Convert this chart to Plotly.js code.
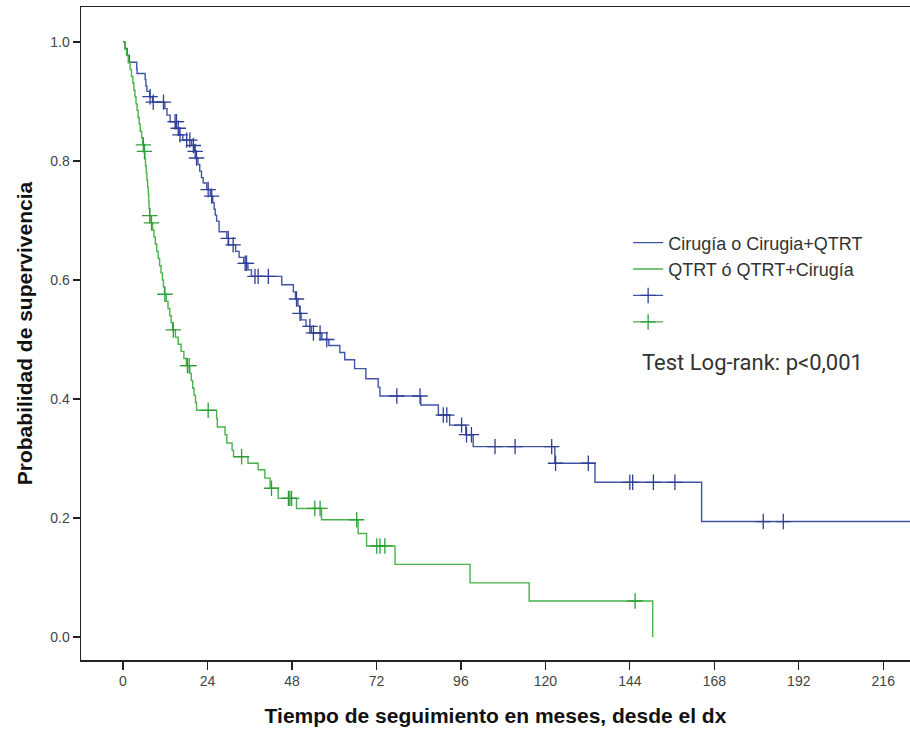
<!DOCTYPE html>
<html><head><meta charset="utf-8">
<script src="https://cdn.plot.ly/plotly-3.0.1.min.js"></script>
<style>html,body{margin:0;padding:0;background:#fff}#chart{width:910px;height:740px}</style>
</head><body><div id="chart"></div>
<script>
// Group names
const groupNames = ['Cirugía o Cirugia+QTRT', 'QTRT ó QTRT+Cirugía'];

// Group 1 (blue): Kaplan-Meier steps (months, survival)
const blueTime = [0,0.6,1.2,1.8,3.9,4.0,6.3,6.5,6.8,7.6,8.4,11.9,12.5,13.4,15.0,15.9,17.0,19.5,20.3,20.8,21.3,21.8,22.3,22.8,23.8,24.8,25.5,25.9,26.2,26.6,27.3,29.5,30.0,32.0,33.0,34.3,35.5,36.5,45.1,48.4,49.0,49.7,50.2,50.6,52.0,53.5,56.5,58.5,61.6,63.0,65.8,69.0,72.5,73.0,84.6,89.6,92.8,97.4,99.5,122.7,134.1,164.4,230];
const blueSurv = [1.0,0.989,0.978,0.966,0.955,0.947,0.937,0.926,0.917,0.908,0.899,0.888,0.877,0.866,0.855,0.844,0.835,0.826,0.816,0.805,0.794,0.783,0.772,0.763,0.752,0.741,0.730,0.719,0.709,0.699,0.681,0.670,0.659,0.648,0.638,0.628,0.617,0.606,0.592,0.580,0.568,0.556,0.544,0.533,0.522,0.511,0.500,0.490,0.478,0.466,0.451,0.434,0.420,0.405,0.390,0.373,0.356,0.340,0.320,0.292,0.260,0.194,0.194];
// Group 1 censored cases
const blueCensTime = [7.7,8.6,11.5,14.8,15.2,15.7,16.2,18.1,19.0,20.0,20.5,20.9,24.2,25.2,29.9,31.3,34.7,35.1,37.5,38.4,41.3,49.3,50.3,53.1,54.1,56.0,57.9,77.8,84.4,91.0,92.0,96.2,97.6,99.0,105.7,111.4,121.8,122.9,132.2,144.0,144.8,150.7,156.8,181.9,187.6];
const blueCensSurv = [0.908,0.899,0.899,0.866,0.866,0.855,0.844,0.835,0.835,0.826,0.816,0.805,0.752,0.741,0.670,0.659,0.628,0.628,0.606,0.606,0.606,0.568,0.544,0.522,0.511,0.511,0.500,0.405,0.405,0.373,0.373,0.356,0.340,0.340,0.320,0.320,0.320,0.292,0.292,0.260,0.260,0.260,0.260,0.194,0.194];

// Group 2 (green): Kaplan-Meier steps
const greenTime = [0,0.5,1.0,1.5,2.0,2.4,2.8,3.1,3.4,3.7,4.0,4.3,4.6,4.9,5.3,5.6,6.0,6.2,6.4,6.6,6.8,7.0,7.2,7.3,7.4,7.6,8.0,8.4,8.8,9.2,9.6,10.0,10.4,10.8,11.2,11.5,11.8,12.3,12.8,13.3,13.7,14.1,14.9,15.7,16.5,17.3,18.0,19.0,19.4,19.8,20.2,20.6,20.9,26.6,26.8,29.0,29.5,31.0,31.4,35.5,38.4,40.3,41.8,44.1,49.3,56.4,66.8,69.2,77.3,98.6,115.4,150.5];
const greenSurv = [1.0,0.988,0.977,0.965,0.954,0.942,0.931,0.919,0.908,0.896,0.885,0.873,0.862,0.850,0.839,0.827,0.816,0.804,0.792,0.780,0.768,0.756,0.744,0.732,0.720,0.708,0.696,0.684,0.672,0.660,0.648,0.636,0.624,0.612,0.600,0.588,0.576,0.564,0.552,0.540,0.528,0.516,0.504,0.492,0.480,0.468,0.456,0.443,0.431,0.418,0.406,0.394,0.381,0.367,0.353,0.340,0.326,0.314,0.303,0.292,0.281,0.267,0.250,0.233,0.216,0.197,0.174,0.153,0.122,0.091,0.0605,0];
// Group 2 censored cases
const greenCensTime = [5.8,6.1,7.6,8.1,11.9,14.3,18.3,18.8,24.2,33.7,42.2,47.0,47.4,47.9,54.5,56.0,66.4,72.1,73.0,74.4,145.5];
const greenCensSurv = [0.827,0.816,0.708,0.696,0.576,0.516,0.456,0.456,0.381,0.303,0.250,0.233,0.233,0.233,0.216,0.216,0.197,0.153,0.153,0.153,0.0605];

// Axis ticks
const xTicks = [0,24,48,72,96,120,144,168,192,216];
const yTicks = [0,0.2,0.4,0.6,0.8,1.0];

const blueCol = '#4155a6', greenCol = '#48b24c';
const blueMark = '#2f3f96', greenMark = '#2f9e3a';

// censor traces: points separated by nulls so no line joins them, but legend shows line + cross
function withGaps(arr){ const out=[]; arr.forEach((v,i)=>{ if(i) out.push(null); out.push(v); }); return out; }

const traces = [
  {x: blueTime, y: blueSurv, mode:'lines', line:{shape:'hv', color: blueCol, width:1.4}, name: groupNames[0], hoverinfo:'x+y'},
  {x: greenTime, y: greenSurv, mode:'lines', line:{shape:'hv', color: greenCol, width:1.4}, name: groupNames[1], hoverinfo:'x+y'},
  {x: withGaps(blueCensTime), y: withGaps(blueCensSurv), mode:'lines+markers', connectgaps:false,
   line:{color: blueCol, width:1.2}, marker:{symbol:'cross-thin', size:11, line:{color: blueMark, width:1.3}}, name:' ', hoverinfo:'x+y'},
  {x: withGaps(greenCensTime), y: withGaps(greenCensSurv), mode:'lines+markers', connectgaps:false,
   line:{color: greenCol, width:1.2}, marker:{symbol:'cross-thin', size:11, line:{color: greenMark, width:1.3}}, name:' ', hoverinfo:'x+y'}
];

const layout = {
  width: 910, height: 740,
  margin: {l:81, r:0, t:7, b:80},
  paper_bgcolor:'#fff', plot_bgcolor:'#fff',
  font: {family:'Arial, "Liberation Sans", sans-serif', color:'#333'},
  showlegend: true,
  legend: {x:0.66, y:0.667, xanchor:'left', yanchor:'top', bgcolor:'rgba(0,0,0,0)',
           font:{size:18, color:'#333', family:'Arial, "Liberation Sans", sans-serif'}, tracegroupgap:0},
  xaxis: {range:[-11.93, 223.6], tickvals:xTicks, ticktext:xTicks.map(String), ticks:'outside', ticklen:8, tickwidth:1.3,
          tickcolor:'#222', showline:true, linecolor:'#222', linewidth:1.5, mirror:true, showgrid:false, zeroline:false,
          tickfont:{size:14, color:'#444'},
          title:{text:'Tiempo de seguimiento en meses, desde el dx', font:{size:21, color:'#111', family:'Arial, "Liberation Sans", sans-serif', weight:'bold'}, standoff:20}},
  yaxis: {range:[-0.0387, 1.0588], tickvals:yTicks, ticktext:yTicks.map(v=>v.toFixed(1)), ticks:'outside', ticklen:7, tickwidth:1.3,
          tickcolor:'#222', showline:true, linecolor:'#222', linewidth:1.5, showgrid:false, zeroline:false,
          tickfont:{size:14, color:'#444'},
          title:{text:'Probabilidad de supervivencia', font:{size:21, color:'#111', family:'Arial, "Liberation Sans", sans-serif', weight:'bold'}, standoff:12}},
  annotations: [{text:'Test Log-rank: p<0,001', xref:'paper', yref:'paper', x:0.81, y:0.456, xanchor:'center', yanchor:'middle',
                 showarrow:false, font:{size:22, color:'#333', family:'Roboto, Arial, sans-serif'}}]
};

Plotly.newPlot('chart', traces, layout, {displayModeBar:false, staticPlot:true});
</script>
</body></html>
